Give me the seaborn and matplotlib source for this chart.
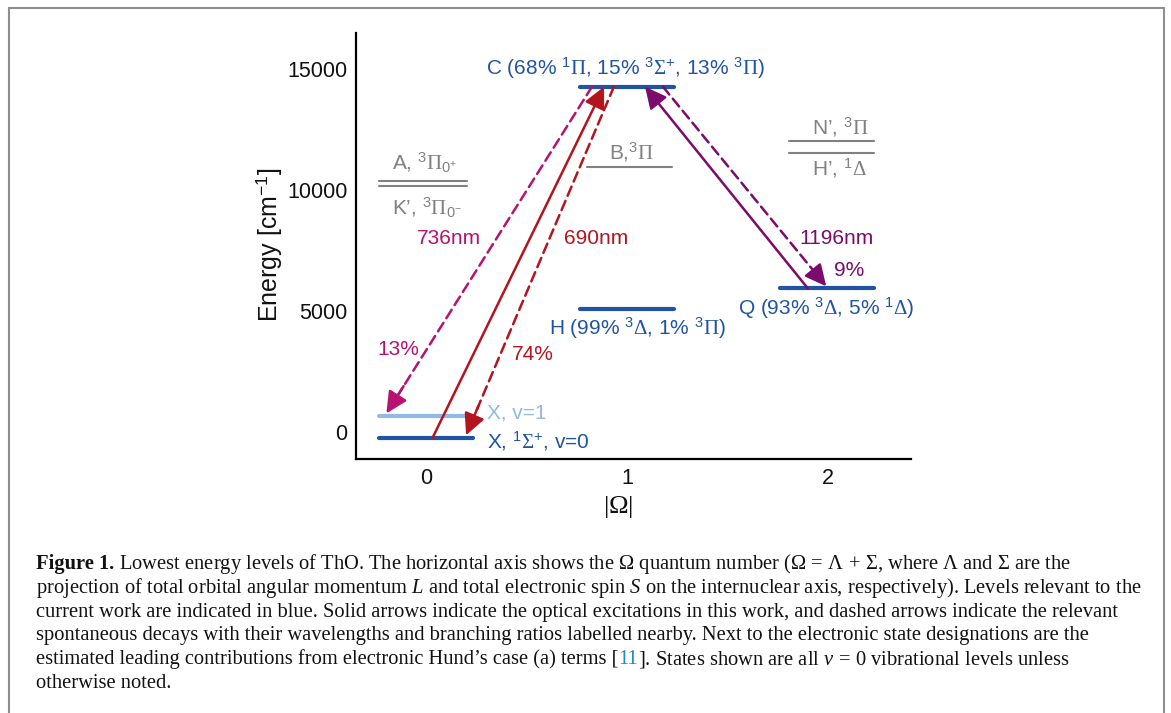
import numpy as np
import pandas as pd
import matplotlib
matplotlib.use("Agg")
import matplotlib.pyplot as plt
import seaborn as sns
from matplotlib.lines import Line2D

# energy levels of ThO, energies in cm^-1
lev_name = ["X0", "X1", "H", "Q", "C", "B", "A", "K", "N", "Hp"]
lev_omega = [0, 0, 1, 2, 1, 1, 0, 0, 2, 2]
lev_energy = [-250, 660, 5080, 5930, 14280, 10940, 10380, 10180, 12050, 11550]
lev_kind = ["blue", "light", "blue", "blue", "blue", "gray", "gray", "gray", "gray", "gray"]

# transitions (excitations solid, decays dashed)
arr_from = ["X0", "C", "C", "Q", "C"]
arr_to = ["C", "X0", "X1", "C", "Q"]
arr_kind = ["red", "red", "magenta", "purple", "purple"]
arr_solid = [True, False, False, True, False]

wl_text = ["736nm", "690nm", "1196nm"]
br_text = ["13%", "74%", "9%"]

yticks = [0, 5000, 10000, 15000]
xticks = [0, 1, 2]

colors = {"blue": "#2053a3", "light": "#92b9e6", "gray": "#808080",
          "red": "#b3141d", "magenta": "#b5136f", "purple": "#7b0b6c"}

sns.set_theme(style="white")
plt.rcParams["font.family"] = ["Liberation Sans", "DejaVu Sans"]
plt.rcParams["mathtext.fontset"] = "custom"
plt.rcParams["mathtext.rm"] = "Liberation Serif"
plt.rcParams["mathtext.it"] = "Liberation Serif:italic"
plt.rcParams["mathtext.bf"] = "Liberation Serif:bold"
plt.rcParams["mathtext.sf"] = "Liberation Sans"

W, H = 1171, 713
fig = plt.figure(figsize=(W / 100, H / 100), dpi=100)
ax = fig.add_axes([356 / W, 1 - 459.3 / H, 555 / W, 426.3 / H])

# horizontal extent of each level around its Omega value
x_span = {"A": (-0.234, 0.204), "K": (-0.234, 0.204), "B": (-0.198, 0.225),
          "N": (-0.194, 0.229), "Hp": (-0.194, 0.229), "Q": (-0.239, 0.229)}
rows = []
for n, om, e, k in zip(lev_name, lev_omega, lev_energy, lev_kind):
    lo, hi = x_span.get(n, (-0.233, 0.233))
    rows.append({"level": n, "kind": k, "x": om + lo, "E": e})
    rows.append({"level": n, "kind": k, "x": om + hi, "E": e})
seg = pd.DataFrame(rows)

for kind, lw in [("gray", 1.5), ("light", 3.0), ("blue", 3.0)]:
    sub = seg[seg["kind"] == kind]
    sns.lineplot(data=sub, x="x", y="E", units="level", estimator=None,
                 color=colors[kind], lw=lw, sort=False, ax=ax, legend=False)

E = dict(zip(lev_name, lev_energy))
O = dict(zip(lev_name, lev_omega))
# where the arrows leave / hit the levels (offset from level centre)
arr_off = [(0.033, -0.114), (-0.065, 0.194), (-0.174, -0.204), (-0.10, 0.090), (0.179, 0.0)]
head = "-|>,head_length=0.65,head_width=0.32"
for f, t, k, solid, (da, db) in zip(arr_from, arr_to, arr_kind, arr_solid, arr_off):
    x0, y0 = O[f] + da, E[f]
    x1, y1 = O[t] + db, E[t]
    if solid:
        ax.annotate("", xy=(x1, y1), xytext=(x0, y0),
                    arrowprops=dict(arrowstyle=head, mutation_scale=20, color=colors[k],
                                    lw=1.8, shrinkA=0, shrinkB=0))
    else:
        # dashed shaft, then a solid head on the last bit
        ax.annotate("", xy=(x1, y1), xytext=(x0, y0),
                    arrowprops=dict(arrowstyle="-", color=colors[k], lw=1.8,
                                    linestyle=(0, (4, 2.2)), shrinkA=0, shrinkB=8))
        xm, ym = x1 - 0.09 * (x1 - x0), y1 - 0.09 * (y1 - y0)
        ax.annotate("", xy=(x1, y1), xytext=(xm, ym),
                    arrowprops=dict(arrowstyle=head, mutation_scale=20, color=colors[k],
                                    lw=1.8, shrinkA=0, shrinkB=2))

fs = 15
for txt, x, k in zip(wl_text, [0.114, 0.846, 2.04], ["magenta", "red", "purple"]):
    ax.text(x, 8017, txt, ha="center", va="center", color=colors[k], fontsize=fs)
for txt, x, y, k in zip(br_text, [-0.139, 0.532, 2.104], [3386, 3179, 6692],
                        ["magenta", "red", "purple"]):
    ax.text(x, y, txt, ha="center", va="center", color=colors[k], fontsize=fs)

ax.text(0.995, 15055, r"C (68% $^{\mathsf{1}}\Pi$, 15% $^{\mathsf{3}}\Sigma^{\mathsf{+}}$, 13% $^{\mathsf{3}}\Pi$)",
        ha="center", va="center", color=colors["blue"], fontsize=fs)
ax.text(1.05, 4296, r"H (99% $^{\mathsf{3}}\Delta$, 1% $^{\mathsf{3}}\Pi$)",
        ha="center", va="center", color=colors["blue"], fontsize=fs)
ax.text(1.99, 5120, r"Q (93% $^{\mathsf{3}}\Delta$, 5% $^{\mathsf{1}}\Delta$)",
        ha="center", va="center", color=colors["blue"], fontsize=fs)
ax.text(0.303, 774, "X, v=1", ha="left", va="center", color=colors["light"], fontsize=fs)
ax.text(0.303, -385, r"X, $^{\mathsf{1}}\Sigma^{\mathsf{+}}$, v=0", ha="left", va="center",
        color=colors["blue"], fontsize=fs)
ax.text(1.025, 11578, r"B,$^{\mathsf{3}}\Pi$", ha="center", va="center", color=colors["gray"], fontsize=fs)
ax.text(-0.005, 11122, r"A, $^{\mathsf{3}}\Pi_{\mathsf{0}^{\mathsf{+}}}$", ha="center", va="center",
        color=colors["gray"], fontsize=fs)
ax.text(0.007, 9259, r"K’, $^{\mathsf{3}}\Pi_{\mathsf{0}^{\mathsf{-}}}$", ha="center", va="center",
        color=colors["gray"], fontsize=fs)
ax.text(2.204, 12612, r"N’, $^{\mathsf{3}}\Pi$", ha="right", va="center", color=colors["gray"], fontsize=fs)
ax.text(2.194, 10915, r"H’, $^{\mathsf{1}}\Delta$", ha="right", va="center", color=colors["gray"], fontsize=fs)

ax.set_xlim(-0.348, 2.413)
ax.set_ylim(-1142, 16503)
ax.set_xticks(xticks)
ax.set_yticks(yticks)
ax.tick_params(labelsize=15.5, length=0, pad=6, colors="#111111")
sns.despine(ax=ax)
for sp in ["left", "bottom"]:
    ax.spines[sp].set_linewidth(1.6)
    ax.spines[sp].set_color("black")
ax.set_xlabel(r"$|\Omega|$", fontsize=19, color="#111111")
ax.xaxis.set_label_coords(0.472, -0.081)
ax.set_ylabel(r"Energy [cm$^{\mathsf{-1}}$]", fontsize=18, color="#111111")
ax.yaxis.set_label_coords(-0.13, 0.503)

# page frame
fc = "#8e8e8e"
fig.add_artist(Line2D([8.5 / W, 8.5 / W], [0, 1 - 7.5 / H], transform=fig.transFigure, color=fc, lw=1.5))
fig.add_artist(Line2D([8.5 / W, 1164 / W], [1 - 7.5 / H, 1 - 7.5 / H], transform=fig.transFigure, color=fc, lw=1.5))
fig.add_artist(Line2D([1164 / W, 1164 / W], [0, 1 - 7.5 / H], transform=fig.transFigure, color=fc, lw=1.5))

# caption, each line as (text, colour, weight) pieces
k_ = "#111111"
cap = [
    [("Figure 1.", k_, "bold"),
     (r" Lowest energy levels of ThO. The horizontal axis shows the Ω quantum number ($\Omega\,=\,\Lambda\,+\,\Sigma$, where Λ and Σ are the", k_, "normal")],
    [(r"projection of total orbital angular momentum $L$ and total electronic spin $S$ on the internuclear axis, respectively). Levels relevant to the", k_, "normal")],
    [("current work are indicated in blue. Solid arrows indicate the optical excitations in this work, and dashed arrows indicate the relevant", k_, "normal")],
    [("spontaneous decays with their wavelengths and branching ratios labelled nearby. Next to the electronic state designations are the", k_, "normal")],
    [("estimated leading contributions from electronic Hund’s case (a) terms [", k_, "normal"),
     ("11", "#1f8ac0", "normal"),
     (r"]. States shown are all $\nu\,=\,0$ vibrational levels unless", k_, "normal")],
    [("otherwise noted.", k_, "normal")],
]
cfs = 14.8
cx = 36 / W
r = fig.canvas.get_renderer()
for i, pieces in enumerate(cap):
    y = 1 - (569 + 23.8 * i) / H
    x = cx
    for piece, c, wt in pieces:
        t = fig.text(x, y, piece, ha="left", va="baseline", family="Liberation Serif",
                     fontsize=cfs, color=c, fontweight=wt)
        x = t.get_window_extent(renderer=r).x1 / W

fig.savefig("out.png", dpi=100)
